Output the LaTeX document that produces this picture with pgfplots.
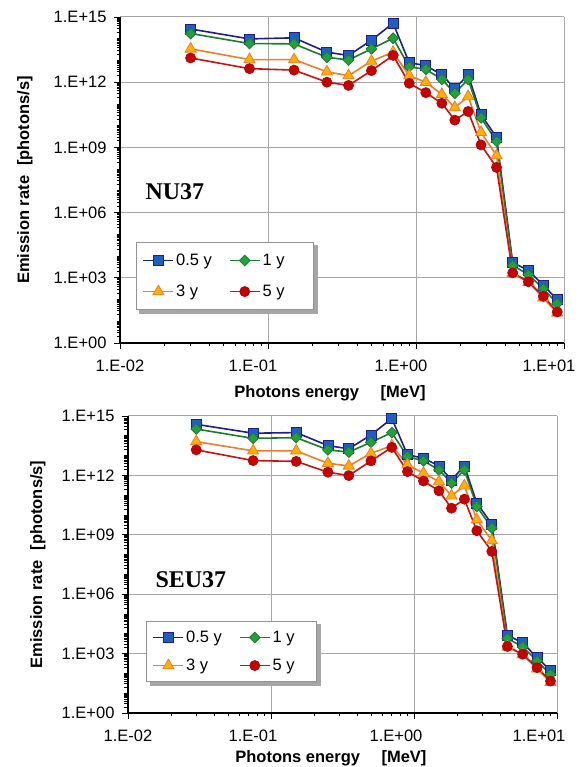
\documentclass[border=0pt]{standalone}
\usepackage{fontspec}
\setmainfont{Liberation Sans}
\newfontfamily\timesbf{Liberation Serif}
\usepackage{pgfplots}
\pgfplotsset{compat=1.18}
\usepackage{pgfplotstable}
\usetikzlibrary{backgrounds}

\definecolor{sqline}{HTML}{1F1F8C}
\definecolor{sqfill}{HTML}{1F5FBF}
\definecolor{dmline}{HTML}{1E7B2A}
\definecolor{dmfill}{HTML}{22A040}
\definecolor{trline}{HTML}{F07C28}
\definecolor{trfill}{HTML}{FFB000}
\definecolor{ciline}{HTML}{CC1010}
\definecolor{cifill}{HTML}{C80000}
\definecolor{gridgray}{HTML}{A6A6A6}

% minor y ticks: every 1..9 x 10^k
\def\yminor{1e14}
\foreach \k in {0,...,14}{\foreach \m in {2,...,9}{\xdef\yminor{\yminor,\m e\k}}}
\foreach \k in {1,2,4,5,7,8,10,11,13}{\xdef\yminor{\yminor,1e\k}}

% E [MeV], 0.5 y, 1 y, 3 y, 5 y
\pgfplotstableread{
E a b c d
0.03   2.8e14  1.74e14 3.4e13  1.3e13
0.075  9.8e13  6.0e13  1.1e13  4.2e12
0.15   1.1e14  5.8e13  1.1e13  3.6e12
0.25   2.4e13  1.4e13  3.0e12  1.0e12
0.35   1.7e13  1.05e13 2.0e12  7.1e11
0.5    8.5e13  3.4e13  9.3e12  3.4e12
0.7    5.2e14  1.05e14 2.4e13  1.7e13
0.9    7.9e12  5.1e12  2.0e12  8.9e11
1.165  5.8e12  3.9e12  1.0e12  3.3e11
1.495  2.2e12  1.35e12 2.75e11 1.07e11
1.83   5.0e11  3.1e11  6.8e10  1.8e10
2.25   2.2e12  1.35e12 2.2e11  4.5e10
2.75   3.2e10  2.3e10  4.9e9   1.3e9
3.5    2.9e9   1.9e9   4.2e8   1.2e8
4.5    5.0e3   3.7e3   1.6e3   1.7e3
5.75   2.2e3   1.4e3   6.3e2   6.6e2
7.25   4.5e2   3.1e2   1.2e2   1.4e2
9.0    1.0e2   6.6e1   2.4e1   2.7e1
}\nutable

\pgfplotstableread{
E a b c d
0.03   3.8e14  2.2e14  5.1e13  1.95e13
0.075  1.35e14 7.4e13  1.74e13 5.6e12
0.15   1.45e14 8.1e13  1.74e13 5.1e12
0.25   3.2e13  1.95e13 4.1e12  1.45e12
0.35   2.2e13  1.5e13  3.0e12  9.8e11
0.5    1.1e14  4.7e13  1.3e13  5.4e12
0.7    7.5e14  1.45e14 3.2e13  2.6e13
0.9    1.1e13  8.9e12  3.4e12  1.55e12
1.165  7.4e12  5.4e12  1.3e12  5.2e11
1.495  3.0e12  1.9e12  4.9e11  1.66e11
1.83   5.9e11  4.1e11  9.3e10  2.2e10
2.25   3.0e12  1.9e12  3.0e11  6.3e10
2.75   4.0e10  2.7e10  5.8e9   1.6e9
3.5    3.5e9   2.2e9   5.1e8   1.45e8
4.5    8.5e3   5.8e3   2.2e3   2.3e3
5.75   3.5e3   2.2e3   8.9e2   9.3e2
7.25   6.3e2   4.3e2   1.7e2   1.95e2
9.0    1.4e2   8.9e1   3.6e1   4.1e1
}\seutable

\pgfplotsset{
  every axis/.append style={
    scale only axis,
    xmode=log, ymode=log,
    xmin=1e-2, xmax=10, ymin=1, ymax=1e15,
    axis x line=bottom, axis y line=left,
    axis line style={-, black, line width=1.2pt},
    grid=major,
    major grid style={gridgray, line width=1pt},
    tick align=outside,
    major tick length=6pt, minor tick length=3.5pt,
    tick style={black, line width=0.8pt},
    xtick={1e-2,1e-1,1,10},
    minor xtick={2e-2,3e-2,4e-2,5e-2,6e-2,7e-2,8e-2,9e-2,0.2,0.3,0.4,0.5,0.6,0.7,0.8,0.9,2,3,4,5,6,7,8,9},
    ytick={1,1e3,1e6,1e9,1e12,1e15},
    yticklabels={1.E+00,1.E+03,1.E+06,1.E+09,1.E+12,1.E+15},
    tick label style={font=\fontsize{16.5}{18}\selectfont},
    yticklabel style={xshift=-4pt},
    xticklabel style={yshift=-7pt},
    xlabel={Photons energy\hspace{1.3em}[MeV]},
    ylabel={Emission rate\hspace{0.6em}[photons/s]},
    clip=false,
    legend columns=2,
    legend cell align=left,
    legend style={anchor=north west,
      draw=gray!85, line width=1.2pt, fill=white,
      font=\fontsize{16.5}{18}\selectfont,
      inner xsep=6pt,
      /tikz/every even column/.append style={column sep=15pt}},
  },
  legend image code/.code={\draw[mark repeat=2,mark phase=2,#1] plot coordinates {(0pt,0pt) (15pt,0pt) (30pt,0pt)};},
  serA/.style={sqline, line width=1.6pt, mark=square*, mark size=5pt,
    mark options={solid, fill=sqfill, draw=sqline, line width=0.8pt}},
  serB/.style={dmline, line width=1.6pt, mark=square*, mark size=3.8pt,
    mark options={solid, rotate=45, fill=dmfill, draw=dmline, line width=0.8pt}},
  serC/.style={trline, line width=1.6pt, mark=triangle*, mark size=6.4pt,
    mark options={solid, fill=trfill, draw=trline, line width=0.8pt}},
  serD/.style={ciline, line width=1.6pt, mark=*, mark size=5pt,
    mark options={solid, fill=cifill, draw=ciline!80!black, line width=0.8pt}},
}

\begin{document}
\begin{tikzpicture}
\useasboundingbox (0pt,0pt) rectangle (582pt,767pt);

% ---- top: NU37
\begin{axis}[at={(120pt,424pt)}, anchor=south west,
    width=444pt, height=326pt,
    minor ytick/.expanded={\yminor},
    xticklabels={1.E-02,\hspace*{-30pt}1.E-01,\hspace*{-30pt}1.E+00,\hspace*{-30pt}1.E+01},
    every axis x label/.style={at={(axis description cs:0.473,-0.153)}, anchor=center,
      font=\fontsize{16.5}{18}\selectfont\bfseries},
    every axis y label/.style={at={(axis description cs:-0.214,0.5)}, anchor=center, rotate=90,
      font=\fontsize{16.5}{18}\selectfont\bfseries},
    legend style={at={(axis description cs:0.036,0.31)}, inner ysep=9.5pt, row sep=14pt, name=legtop}]
\addplot[serA] table[x=E, y=a] {\nutable};
\addplot[serB] table[x=E, y=b] {\nutable};
\addplot[serC] table[x=E, y=c] {\nutable};
\addplot[serD] table[x=E, y=d] {\nutable};
\legend{0.5 y, 1 y\hspace*{21pt}, 3 y, 5 y\hspace*{21pt}}
\node[anchor=base west, font=\fontsize{24}{26}\timesbf\bfseries] at (axis description cs:0.0495,0.4387) {NU37};
\end{axis}

% ---- bottom: SEU37
\begin{axis}[at={(128pt,54pt)}, anchor=south west,
    width=429pt, height=297pt,
    minor ytick/.expanded={\yminor},
    xticklabels={1.E-02,\hspace*{-36pt}1.E-01,\hspace*{-36pt}1.E+00,\hspace*{-36pt}1.E+01},
    every axis x label/.style={at={(axis description cs:0.473,-0.152)}, anchor=center,
      font=\fontsize{16.5}{18}\selectfont\bfseries},
    every axis y label/.style={at={(axis description cs:-0.21,0.5)}, anchor=center, rotate=90,
      font=\fontsize{16.5}{18}\selectfont\bfseries},
    legend style={at={(axis description cs:0.042,0.31)}, inner ysep=7.5pt, row sep=11pt, name=legbot}]
\addplot[serA] table[x=E, y=a] {\seutable};
\addplot[serB] table[x=E, y=b] {\seutable};
\addplot[serC] table[x=E, y=c] {\seutable};
\addplot[serD] table[x=E, y=d] {\seutable};
\legend{0.5 y, 1 y\hspace*{14pt}, 3 y, 5 y\hspace*{14pt}}
\node[anchor=base west, font=\fontsize{24}{26}\timesbf\bfseries] at (axis description cs:0.056,0.421) {SEU37};
\end{axis}

% legend shadows
\begin{scope}[on background layer]
\fill[gray!70] ([shift={(3.5pt,-3.5pt)}]legtop.south west) rectangle ([shift={(3.5pt,-3.5pt)}]legtop.north east);
\fill[gray!70] ([shift={(3.5pt,-3.5pt)}]legbot.south west) rectangle ([shift={(3.5pt,-3.5pt)}]legbot.north east);
\end{scope}
\end{tikzpicture}
\end{document}
